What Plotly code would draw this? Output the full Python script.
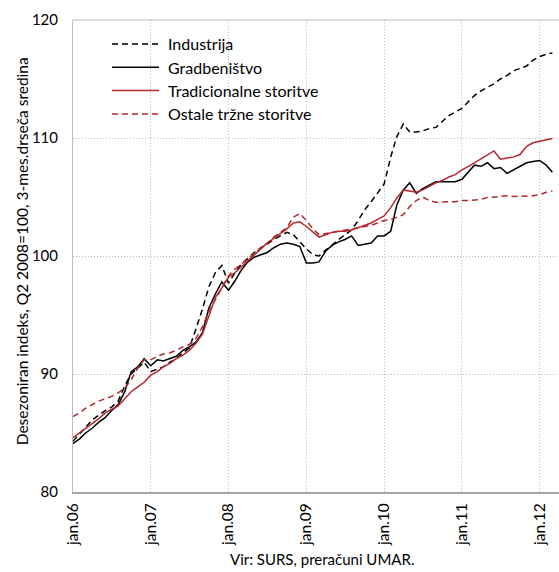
import pandas as pd
import plotly.graph_objects as go

# ---- data (monthly, jan 2006 - mar 2012) ----
months = pd.date_range("2006-01-01", periods=75, freq="MS")

industrija = [84.3, 84.9, 85.5, 86.1, 86.5, 86.9, 87.2, 87.7, 89.0, 90.0, 90.5, 91.0,
              90.2, 90.4, 90.6, 91.0, 91.3, 91.8, 92.2, 93.8, 95.5, 97.4, 98.6, 99.2,
              97.7, 98.6, 99.3, 99.8, 100.3, 100.7, 101.0, 101.4, 101.7, 102.0, 101.8, 101.2,
              100.6, 100.1, 100.0, 100.5, 100.9, 101.4, 101.8, 102.2, 103.0, 103.9, 104.6, 105.3,
              106.1, 108.4, 110.1, 111.2, 110.5, 110.5, 110.6, 110.8, 110.9, 111.4, 111.9, 112.2,
              112.5, 113.1, 113.6, 114.0, 114.3, 114.6, 115.0, 115.3, 115.7, 115.9, 116.1, 116.6,
              116.9, 117.1, 117.2]

gradbenistvo = [84.1, 84.5, 85.0, 85.4, 85.9, 86.3, 86.9, 87.4, 88.5, 90.2, 90.6, 91.3,
                90.7, 91.2, 91.1, 91.3, 91.5, 92.0, 92.3, 92.7, 93.5, 95.6, 96.8, 97.8,
                97.1, 97.9, 98.8, 99.5, 99.9, 100.1, 100.3, 100.7, 101.0, 101.1, 101.0, 100.8,
                99.4, 99.4, 99.5, 100.4, 100.9, 101.2, 101.4, 101.7, 100.9, 101.0, 101.1, 101.7,
                101.7, 102.1, 104.3, 105.6, 106.2, 105.3, 105.7, 106.0, 106.3, 106.3, 106.3, 106.3,
                106.5, 107.1, 107.7, 107.6, 107.9, 107.4, 107.5, 107.0, 107.3, 107.6, 107.9, 108.0,
                108.1, 107.7, 107.1]

tradicionalne = [84.6, 85.0, 85.4, 85.8, 86.2, 86.7, 87.0, 87.3, 87.9, 88.5, 88.9, 89.3,
                 89.9, 90.2, 90.6, 90.9, 91.3, 91.6, 92.0, 92.6, 93.4, 95.0, 96.5, 97.3,
                 98.2, 98.6, 99.1, 99.6, 100.1, 100.6, 101.1, 101.5, 101.9, 102.3, 102.8, 102.9,
                 102.5, 102.0, 101.6, 101.8, 102.0, 102.1, 102.1, 102.2, 102.4, 102.6, 102.8, 103.1,
                 103.4, 104.1, 104.9, 105.6, 105.5, 105.4, 105.6, 105.9, 106.2, 106.4, 106.7, 106.9,
                 107.3, 107.6, 107.9, 108.2, 108.5, 108.9, 108.2, 108.3, 108.4, 108.6, 109.3, 109.6,
                 109.7, 109.8, 109.95]

ostale = [86.4, 86.7, 87.1, 87.4, 87.7, 87.9, 88.1, 88.4, 88.8, 89.5, 90.5, 91.2,
          91.2, 91.5, 91.7, 91.8, 92.0, 92.3, 92.5, 93.0, 94.0, 95.3, 96.3, 97.2,
          98.3, 98.9, 99.3, 99.8, 100.2, 100.7, 101.1, 101.6, 102.0, 102.4, 103.3, 103.6,
          103.0, 102.3, 101.8, 101.9, 102.0, 102.1, 102.2, 102.3, 102.4, 102.5, 102.6, 102.8,
          103.0, 103.1, 103.3, 103.5, 104.2, 104.7, 105.0, 104.7, 104.55, 104.6, 104.6, 104.6,
          104.7, 104.7, 104.75, 104.8, 104.95, 105.0, 105.1, 105.1, 105.05, 105.05, 105.1, 105.1,
          105.2, 105.4, 105.5]

series_names = ["Industrija", "Gradbeništvo", "Tradicionalne storitve", "Ostale tržne storitve"]
series_values = [industrija, gradbenistvo, tradicionalne, ostale]

tick_dates = ["2006-01-01", "2007-01-01", "2008-01-01", "2009-01-01",
              "2010-01-01", "2011-01-01", "2012-01-01"]
tick_labels = ["jan.06", "jan.07", "jan.08", "jan.09", "jan.10", "jan.11", "jan.12"]

y_title = "Desezoniran indeks, Q2 2008=100, 3-mes.drseča sredina"
source_text = "Vir: SURS, preračuni UMAR."

# ---- styles ----
RED = "#B3282D"
styles = [
    dict(color="black", width=1.5, dash="6px,4px"),
    dict(color="black", width=1.5, dash="solid"),
    dict(color=RED, width=1.5, dash="solid"),
    dict(color=RED, width=1.5, dash="6px,4px"),
]
FONT = "Lato, 'Open Sans', sans-serif"
GRID = "#BDBDBD"

W, H = 559, 572
L, R, T, B = 73, 0, 20, 80
pw, ph = W - L - R, H - T - B


def px2paper(x, y):
    return (x - L) / pw, (H - B - y) / ph


fig = go.Figure()
for name, vals, st in zip(series_names, series_values, styles):
    fig.add_trace(go.Scatter(x=months, y=vals, mode="lines", name=name,
                             line=st, showlegend=False, hoverinfo="x+y+name"))

# custom legend (line samples + text)
shapes = []
annotations = []
for i, (name, st) in enumerate(zip(series_names, styles)):
    py = 44 + 23.3 * i
    x0, y0 = px2paper(112, py)
    x1, _ = px2paper(159, py)
    shapes.append(dict(type="line", xref="paper", yref="paper", x0=x0, x1=x1, y0=y0, y1=y0,
                       line=st))
    tx, _ = px2paper(166, py)
    annotations.append(dict(xref="paper", yref="paper", x=tx, y=y0, text=name,
                            showarrow=False, xanchor="left", yanchor="middle",
                            font=dict(family=FONT, size=16, color="black")))

# top border
shapes.append(dict(type="line", xref="paper", yref="paper", x0=0, x1=1, y0=1, y1=1,
                   line=dict(color=GRID, width=1)))

# y-axis title
annotations.append(dict(xref="paper", yref="paper", x=px2paper(22, 0)[0], y=0.51,
                        text=y_title, textangle=-90, showarrow=False,
                        xanchor="center", yanchor="middle",
                        font=dict(family=FONT, size=15.5, color="black")))
# source
sx, sy = px2paper(322, 559)
annotations.append(dict(xref="paper", yref="paper", x=sx, y=sy, text=source_text,
                        showarrow=False, xanchor="center", yanchor="middle",
                        font=dict(family=FONT, size=15, color="black")))

fig.update_layout(
    width=W, height=H,
    margin=dict(l=L, r=R, t=T, b=B, autoexpand=False),
    paper_bgcolor="white", plot_bgcolor="white",
    font=dict(family=FONT, size=15, color="black"),
    shapes=shapes, annotations=annotations,
    xaxis=dict(
        type="date",
        range=["2006-01-01", "2012-04-01"],
        tickvals=tick_dates, ticktext=tick_labels, tickangle=-90,
        showgrid=True, gridcolor=GRID, griddash="1px,2px", gridwidth=1,
        showline=True, linecolor="#A6A6A6", linewidth=2,
        ticks="", ticklabelstandoff=3, zeroline=False,
        tickfont=dict(family=FONT, size=15.5, color="black"),
    ),
    yaxis=dict(
        range=[80, 120], tickvals=[80, 90, 100, 110, 120],
        showgrid=True, gridcolor=GRID, griddash="1px,2px", gridwidth=1,
        showline=True, linecolor=GRID, linewidth=1,
        ticks="", ticklabelstandoff=11, zeroline=False,
        tickfont=dict(family=FONT, size=15, color="black"),
    ),
)

fig.write_html("out.html",
               config={"displayModeBar": False},
               post_script="document.body.style.margin='0';document.body.style.overflow='hidden';")
